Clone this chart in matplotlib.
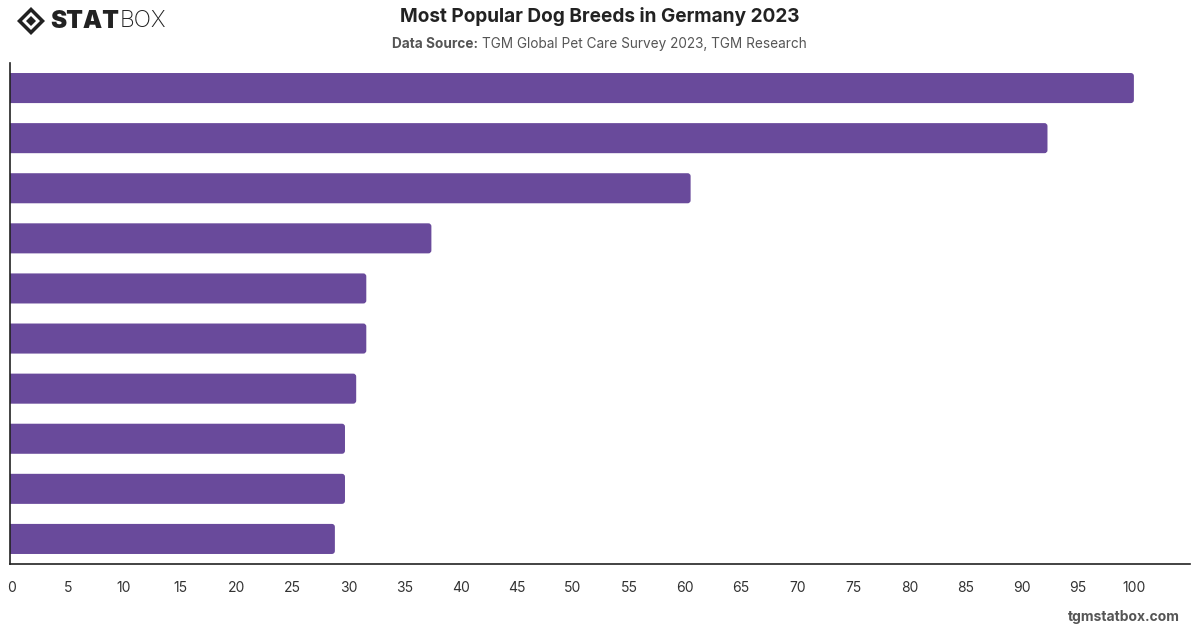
import matplotlib
matplotlib.use("Agg")
import matplotlib.pyplot as plt
from matplotlib.patches import FancyBboxPatch, Polygon

# ranks of the breeds (names are not shown on the chart)
ranks = ["1", "2", "3", "4", "5", "6", "7", "8", "9", "10"]
values = [100, 92.3, 60.5, 37.4, 31.6, 31.6, 30.7, 29.7, 29.7, 28.8]
xticks = list(range(0, 101, 5))

bar_color = "#694A9B"
text_color = "#333333"

plt.rcParams["font.family"] = ["Inter", "DejaVu Sans"]

W, H = 1200, 628
fig = plt.figure(figsize=(12, 6.28), dpi=100)
ax = fig.add_axes([10 / W, 1 - 564 / H, 1180 / W, 501 / H])

ax.set_xlim(-0.15, 105.0)
ax.set_ylim(len(ranks) - 0.5, -0.5)

# size of one data unit in pixels, to keep corners round
px_x = 1180 / 105.15
px_y = 501 / len(ranks)

for i, v in enumerate(values):
    p = FancyBboxPatch((-1, i - 0.3), v + 1, 0.6,
                       boxstyle="round,pad=0,rounding_size=%f" % (3.0 / px_x),
                       mutation_aspect=px_x / px_y,
                       fc=bar_color, ec="none", zorder=2)
    p.set_clip_on(True)
    ax.add_patch(p)

ax.set_yticks(range(len(ranks)))
ax.set_yticklabels([])
ax.tick_params(axis="y", length=0)
ax.set_xticks(xticks)
ax.set_xticklabels([str(t) for t in xticks], fontsize=10, color=text_color)
ax.tick_params(axis="x", length=0, pad=12)

for s in ["top", "right"]:
    ax.spines[s].set_visible(False)
for s in ["left", "bottom"]:
    ax.spines[s].set_color("#222222")
    ax.spines[s].set_linewidth(1.2)

# title and subtitle
fig.text(0.5, 1 - 17 / H, "Most Popular Dog Breeds in Germany 2023",
         ha="center", va="center", fontsize=13.7, fontweight="bold", color="#222222")
src = fig.text(392 / W, 1 - 44 / H, "Data Source:", ha="left", va="center",
               fontsize=9.8, fontweight="bold", color="#555555")
fig.canvas.draw()
bb = src.get_window_extent(renderer=fig.canvas.get_renderer())
fig.text((bb.x1 + 4) / W, 1 - 44 / H, "TGM Global Pet Care Survey 2023, TGM Research",
         ha="left", va="center", fontsize=9.8, color="#555555")

# logo
cx, cy = 31 / W, 1 - 21 / H
for r, c in [(14, "#222222"), (9, "white"), (5, "#222222")]:
    w, h = r / W, r / H
    fig.patches.append(Polygon([(cx - w, cy), (cx, cy + h), (cx + w, cy), (cx, cy - h)],
                               closed=True, fc=c, ec="none", transform=fig.transFigure))
stat = fig.text(50 / W, cy, "STAT", ha="left", va="center", fontsize=17.5,
                fontweight="black", color="#222222")
fig.canvas.draw()
bb = stat.get_window_extent(renderer=fig.canvas.get_renderer())
fig.text(bb.x1 / W + 1 / W, cy, "BOX", ha="left", va="center", fontsize=16.5,
         fontweight="light", color="#222222")

fig.text(1180 / W, 1 - 617 / H, "tgmstatbox.com", ha="right", va="center",
         fontsize=10, fontweight="bold", color="#555555")

fig.savefig("out.png", dpi=100, facecolor="white")
